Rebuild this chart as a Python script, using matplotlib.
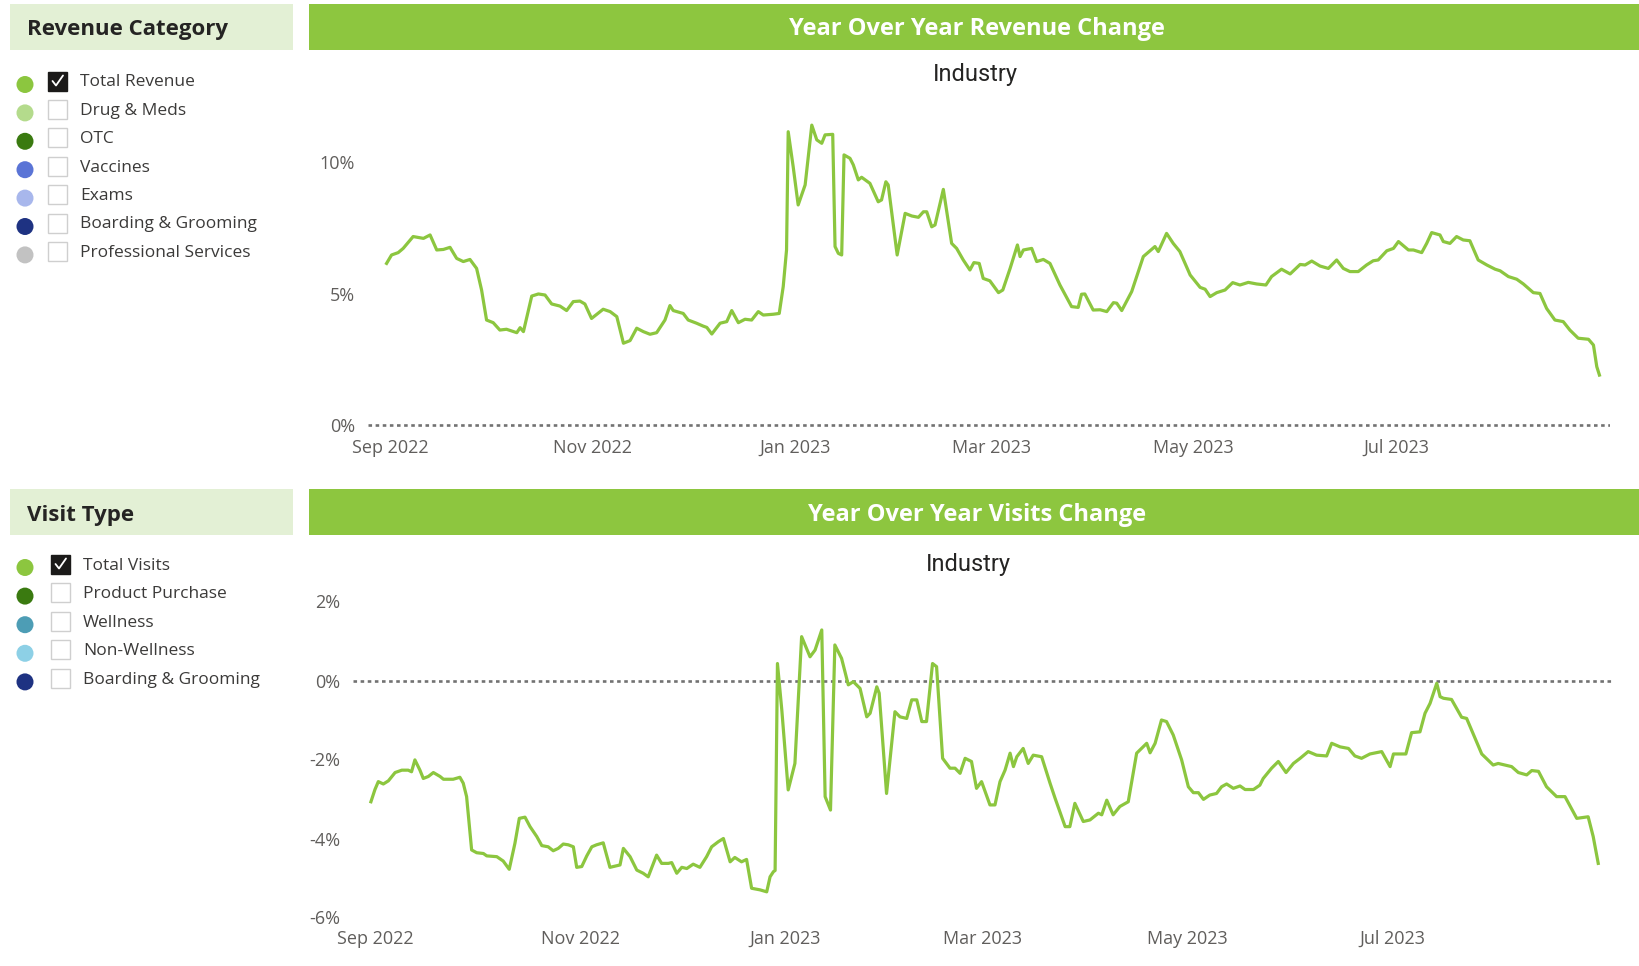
import numpy as np
import pandas as pd
import matplotlib
matplotlib.use('Agg')
import matplotlib.pyplot as plt
import matplotlib.dates as mdates
from matplotlib.patches import Rectangle, Circle
from matplotlib.ticker import FixedLocator, FuncFormatter

# ---------------- data ----------------
START = '2022-09-01'  # day 0

rev_title = 'Year Over Year Revenue Change'
vis_title = 'Year Over Year Visits Change'
subtitle = 'Industry'

rev_categories = ['Total Revenue', 'Drug & Meds', 'OTC', 'Vaccines', 'Exams',
                  'Boarding & Grooming', 'Professional Services']
rev_cat_colors = ['#8cc63f', '#b4db8c', '#3a7a10', '#5a74d6', '#a8b7ec',
                  '#1e3282', '#c2c2c2']
rev_checked = [True, False, False, False, False, False, False]

vis_categories = ['Total Visits', 'Product Purchase', 'Wellness', 'Non-Wellness',
                  'Boarding & Grooming']
vis_cat_colors = ['#8cc63f', '#3a7a10', '#4d9db5', '#8dd0e6', '#1e3282']
vis_checked = [True, False, False, False, False]

# days since START, YoY revenue change (%)
rev_day = [-1.0, 0.5, 2.5, 4.0, 7.0, 10.1, 12.1, 14.1, 16.1, 18.1, 20.1, 22.1, 24.1, 26.1,
           27.6, 29.1, 31.1, 33.1, 35.1, 38.2, 39.2, 40.2, 42.7, 44.7, 46.7, 48.7, 51.2,
           53.2, 55.2, 57.2, 58.7, 60.7, 64.2, 66.3, 68.3, 70.3, 72.3, 74.3, 76.3, 78.3,
           80.3, 82.8, 84.3, 85.3, 88.3, 89.8, 92.3, 94.3, 95.4, 96.9, 99.4, 101.4, 102.9,
           104.9, 106.9, 108.9, 110.9, 112.4, 115.4, 117.2, 118.4, 119.4, 119.9, 121.4,
           122.9, 125.0, 127.0, 128.5, 130.0, 131.0, 133.3, 134.0, 135.0, 136.0, 136.7,
           138.5, 139.5, 141.0, 142.0, 144.5, 147.0, 148.0, 149.3, 150.0, 152.7, 155.1,
           157.1, 159.1, 160.6, 161.6, 163.1, 164.1, 166.6, 169.1, 170.6, 172.6, 174.6,
           175.8, 177.4, 178.6, 180.6, 183.2, 184.5, 186.7, 188.9, 189.7, 190.7, 193.2,
           194.7, 196.7, 198.7, 201.7, 205.2, 207.2, 208.2, 209.2, 211.7, 213.8, 215.8,
           217.8, 218.8, 220.3, 223.3, 224.8, 226.8, 229.3, 230.3, 231.3, 233.8, 235.8,
           237.8, 240.9, 243.9, 245.4, 246.9, 248.9, 251.4, 253.7, 255.9, 258.4, 260.9,
           263.7, 265.4, 268.4, 271.0, 274.0, 275.5, 277.5, 280.0, 282.5, 285.0, 287.0,
           289.0, 291.5, 294.0, 296.0, 297.5, 300.1, 302.1, 303.6, 306.6, 308.1, 310.6,
           312.1, 313.6, 316.1, 317.1, 319.1, 321.1, 323.1, 325.1, 327.6, 330.2, 332.7,
           334.2, 336.7, 339.2, 341.2, 344.2, 346.2, 348.2, 350.7, 353.2, 355.2, 357.7,
           360.8, 362.3, 363.3, 364.1]
rev_val = [6.15, 6.47, 6.56, 6.72, 7.17, 7.10, 7.23, 6.66, 6.68, 6.76, 6.34, 6.22, 6.30, 5.96,
           5.14, 4.00, 3.90, 3.62, 3.65, 3.52, 3.71, 3.56, 4.91, 4.99, 4.95, 4.61, 4.53,
           4.36, 4.70, 4.72, 4.61, 4.06, 4.41, 4.32, 4.13, 3.12, 3.22, 3.69, 3.56, 3.46,
           3.52, 4.00, 4.55, 4.36, 4.25, 4.00, 3.88, 3.77, 3.72, 3.47, 3.88, 3.94, 4.36,
           3.90, 4.03, 4.00, 4.32, 4.19, 4.22, 4.25, 5.27, 6.66, 11.15, 9.82,
           8.37, 9.13, 11.40, 10.84, 10.71, 11.03, 11.05, 6.79, 6.53, 6.47, 10.27,
           10.14, 9.89, 9.32, 9.42, 9.19, 8.49, 8.56, 9.25, 9.13, 6.47, 8.05,
           7.95, 7.90, 8.11, 8.11, 7.54, 7.61, 8.96, 6.91, 6.72, 6.28, 5.90,
           6.18, 6.15, 5.58, 5.49, 5.04, 5.14, 5.96, 6.85, 6.41, 6.66, 6.72,
           6.22, 6.30, 6.15, 5.33, 4.51, 4.48, 4.98, 4.99, 4.38, 4.39, 4.32,
           4.66, 4.64, 4.36, 5.08, 5.65, 6.41, 6.68, 6.79, 6.60, 7.29, 6.91,
           6.60, 5.71, 5.24, 5.17, 4.89, 5.04, 5.14, 5.42, 5.33, 5.43, 5.37,
           5.33, 5.65, 5.93, 5.75, 6.11, 6.09, 6.24, 6.05, 5.96, 6.28, 5.96,
           5.84, 5.84, 6.09, 6.25, 6.28, 6.63, 6.72, 6.98, 6.66, 6.66, 6.56,
           6.91, 7.32, 7.23, 6.98, 6.91, 7.17, 7.04, 7.01, 6.28, 6.09, 5.93,
           5.87, 5.65, 5.55, 5.37, 5.04, 5.01, 4.44, 4.00, 3.94, 3.62, 3.31,
           3.27, 3.05, 2.23, 1.91]

# days since START, YoY visits change (%)
vis_day = [-1.3, -0.1, 0.9, 2.4, 3.9, 5.9, 7.9, 9.8, 10.8, 11.8, 13.3, 14.3, 15.8, 17.3, 19.3,
           20.3, 23.2, 25.2, 26.2, 27.2, 28.7, 30.2, 32.2, 33.2, 36.2, 38.1, 39.9, 41.6,
           42.9, 44.6, 46.1, 48.1, 49.6, 51.5, 53.0, 54.5, 56.0, 57.5, 59.0, 60.0, 61.5,
           63.0, 64.5, 65.9, 67.9, 69.9, 72.9, 73.9, 75.9, 77.9, 79.8, 81.3, 83.8, 85.3,
           87.3, 88.3, 89.8, 91.3, 92.8, 94.7, 96.7, 98.7, 100.2, 102.2, 103.7, 105.7,
           107.1, 109.1, 110.6, 112.1, 114.6, 116.6, 117.6, 118.6, 119.1, 119.8, 121.1,
           123.0, 125.0, 127.0, 129.5, 131.0, 133.0, 134.0, 135.6, 136.9, 138.9, 140.9,
           142.4, 144.4, 146.4, 147.4, 149.4, 150.1, 152.3, 154.8, 156.3, 158.3, 159.8,
           161.3, 162.8, 164.2, 166.0, 167.2, 169.0, 171.2, 172.7, 174.2, 175.7, 177.6,
           179.1, 180.6, 183.1, 184.6, 186.1, 187.6, 189.1, 190.1, 191.1, 193.0, 194.5,
           196.0, 198.5, 201.0, 202.5, 205.5, 206.9, 208.4, 210.9, 212.9, 215.4, 216.4,
           217.9, 219.8, 221.8, 224.3, 226.8, 229.8, 230.8, 232.3, 234.2, 235.7, 237.7,
           240.2, 242.2, 243.7, 245.2, 246.7, 248.6, 250.6, 252.1, 253.6, 255.6, 257.6,
           259.1, 261.6, 263.5, 264.5, 267.0, 269.0, 271.3, 273.5, 275.5, 277.9, 280.4,
           283.4, 284.9, 287.4, 289.9, 291.8, 293.8, 296.3, 299.8, 302.3, 303.3, 307.0,
           308.7, 311.2, 312.7, 314.2, 316.2, 317.2, 318.2, 320.6, 323.6, 325.1, 329.6,
           333.0, 334.5, 338.5, 340.5, 343.0, 344.5, 346.5, 348.9, 351.9, 354.4, 357.9,
           361.3, 362.8, 364.3]
vis_val = [-3.07, -2.76, -2.56, -2.62, -2.54, -2.33, -2.27, -2.27, -2.31, -2.01, -2.27, -2.48,
           -2.43, -2.33, -2.43, -2.50, -2.50, -2.45, -2.60, -2.94, -4.29, -4.36, -4.38,
           -4.44, -4.46, -4.57, -4.78, -4.12, -3.49, -3.46, -3.70, -3.95, -4.18, -4.21,
           -4.31, -4.25, -4.14, -4.16, -4.21, -4.73, -4.71, -4.44, -4.21, -4.16, -4.11,
           -4.73, -4.67, -4.25, -4.46, -4.80, -4.88, -4.97, -4.42, -4.63, -4.63, -4.61,
           -4.88, -4.73, -4.76, -4.65, -4.73, -4.46, -4.21, -4.08, -4.00, -4.59, -4.48,
           -4.59, -4.53, -5.26, -5.30, -5.35, -4.97, -4.84, -4.81, 0.43, -0.75, -2.77,
           -2.10, 1.11, 0.60, 0.77, 1.28, -2.94, -3.28, 0.90, 0.56, -0.11, -0.03, -0.20,
           -0.92, -0.83, -0.16, -0.32, -2.86, -0.79, -0.92, -0.96, -0.49, -0.49, -1.04,
           -1.04, 0.43, 0.35, -1.97, -2.22, -2.22, -2.35, -1.97, -2.05, -2.73, -2.56,
           -3.15, -3.15, -2.56, -2.27, -1.84, -2.18, -1.93, -1.72, -2.10, -1.89, -1.93,
           -2.60, -2.98, -3.70, -3.70, -3.11, -3.57, -3.53, -3.36, -3.40, -3.03, -3.40,
           -3.19, -3.07, -1.84, -1.59, -1.83, -1.59, -1.00, -1.04, -1.38, -2.01, -2.69,
           -2.84, -2.84, -3.01, -2.90, -2.86, -2.69, -2.62, -2.73, -2.67, -2.76, -2.76,
           -2.65, -2.48, -2.22, -2.05, -2.33, -2.10, -1.97, -1.80, -1.89, -1.91, -1.59,
           -1.68, -1.72, -1.91, -1.97, -1.86, -1.80, -2.18, -1.86, -1.86, -1.32, -1.30,
           -0.83, -0.58, -0.07, -0.41, -0.45, -0.48, -0.93, -0.96, -1.86, -2.14, -2.10,
           -2.18, -2.33, -2.39, -2.28, -2.30, -2.69, -2.94, -2.94, -3.49, -3.45, -3.95,
           -4.63]

rev_yticks = [0, 5, 10]
vis_yticks = [-6, -4, -2, 0, 2]
x_tick_dates = ['2022-09-01', '2022-11-01', '2023-01-01', '2023-03-01', '2023-05-01',
                '2023-07-01']

# ---------------- styling ----------------
W, H = 1639, 966
plt.rcParams['font.family'] = ['Open Sans', 'DejaVu Sans']
LINE = '#8cc63f'
BAR = '#8dc63f'
HEAD_BG = '#e3f0d5'
TXT = '#252423'
TICK = '#605e5c'

fig = plt.figure(figsize=(W / 100, H / 100), dpi=100)
fig.patch.set_facecolor('white')

ov = fig.add_axes([0, 0, 1, 1])
ov.set_xlim(0, W)
ov.set_ylim(H, 0)
ov.axis('off')


def to_dates(days):
    return pd.Timestamp(START) + pd.to_timedelta(np.asarray(days, dtype=float), unit='D')


def header(y0, h, text, bar_text, dy):
    ov.add_patch(Rectangle((10, y0), 283, h, fc=HEAD_BG, ec='none'))
    ov.text(27, y0 + h / 2 + dy, text, fontsize=16, fontweight='bold', color=TXT,
            ha='left', va='center')
    ov.add_patch(Rectangle((309, y0), W - 309, h, fc=BAR, ec='none'))
    ov.text((309 + W) / 2 + 3, y0 + h / 2 + dy, bar_text, fontsize=17, fontweight='bold',
            color='white', ha='center', va='center')


def legend(y_first, step, cb_x, txt_x, names, colors, checked):
    for i, (n, c, chk) in enumerate(zip(names, colors, checked)):
        y = y_first + i * step
        ov.add_patch(Circle((25, y + 2), 8.5, fc=c, ec='none'))
        if chk:
            ov.add_patch(Rectangle((cb_x, y - 11), 19, 19, fc='#1b1a19', ec='#1b1a19', lw=1))
            ov.plot([cb_x + 4.5, cb_x + 8, cb_x + 15], [y - 1.5, y + 3, y - 7],
                    color='white', lw=1.3, solid_capstyle='round')
        else:
            ov.add_patch(Rectangle((cb_x, y - 11), 19, 19, fc='white', ec='#cfcfcf', lw=1))
        ov.text(txt_x, y, n, fontsize=12.5, color='#3b3a39', ha='left', va='center')


header(4, 46, 'Revenue Category', rev_title, 2)
header(489, 46, 'Visit Type', vis_title, 3)
legend(82.5, 28.4, 48, 80, rev_categories, rev_cat_colors, rev_checked)
legend(565.5, 28.6, 51, 83, vis_categories, vis_cat_colors, vis_checked)

ov.text(975, 74, subtitle, fontsize=17, color=TXT, ha='center', va='center',
        family=['Roboto', 'DejaVu Sans'])
ov.text(968, 564, subtitle, fontsize=17, color=TXT, ha='center', va='center',
        family=['Roboto', 'DejaVu Sans'])


def make_axes(x0, x1, ytop, ybot):
    return fig.add_axes([x0 / W, 1 - ybot / H, (x1 - x0) / W, (ybot - ytop) / H])


def style(ax, yticks, xlim_days, ylim, xpad):
    ax.set_facecolor('none')
    for s in ax.spines.values():
        s.set_visible(False)
    ax.set_ylim(*ylim)
    ax.set_xlim(to_dates(xlim_days))
    ax.yaxis.set_major_locator(FixedLocator(yticks))
    ax.yaxis.set_major_formatter(FuncFormatter(lambda v, p: f'{v:.0f}%'))
    ax.xaxis.set_major_locator(FixedLocator(mdates.date2num(pd.to_datetime(x_tick_dates))))
    ax.xaxis.set_major_formatter(mdates.DateFormatter('%b %Y'))
    ax.tick_params(axis='both', length=0, labelsize=13, labelcolor=TICK)
    ax.tick_params(axis='y', pad=9.4)
    ax.tick_params(axis='x', pad=xpad)
    for lab in ax.xaxis.get_majorticklabels():
        lab.set_verticalalignment('baseline')
    ax.axhline(0, color='#727272', lw=1.9, ls=(0, (1.35, 1.35)),
               dash_capstyle='butt', zorder=1)


# top chart
ax1 = make_axes(368, 1610, 425.4 - 26.34 * 12, 425.4 + 26.34 * 0.3)
style(ax1, rev_yticks, [-6.59, 367.28], (-0.3, 12), 14.0)
ax1.plot(to_dates(rev_day), rev_val, color=LINE, lw=2.3, solid_joinstyle='round', zorder=3)

# bottom chart
ax2 = make_axes(353, 1613, 680.5 - 39.5 * 2.5, 680.5 + 39.5 * 6.1)
style(ax2, vis_yticks, [-6.64, 368.7], (-6.1, 2.5), 16.0)
ax2.plot(to_dates(vis_day), vis_val, color=LINE, lw=2.3, solid_joinstyle='round', zorder=3)

fig.savefig('out.png', dpi=100, facecolor='white')
